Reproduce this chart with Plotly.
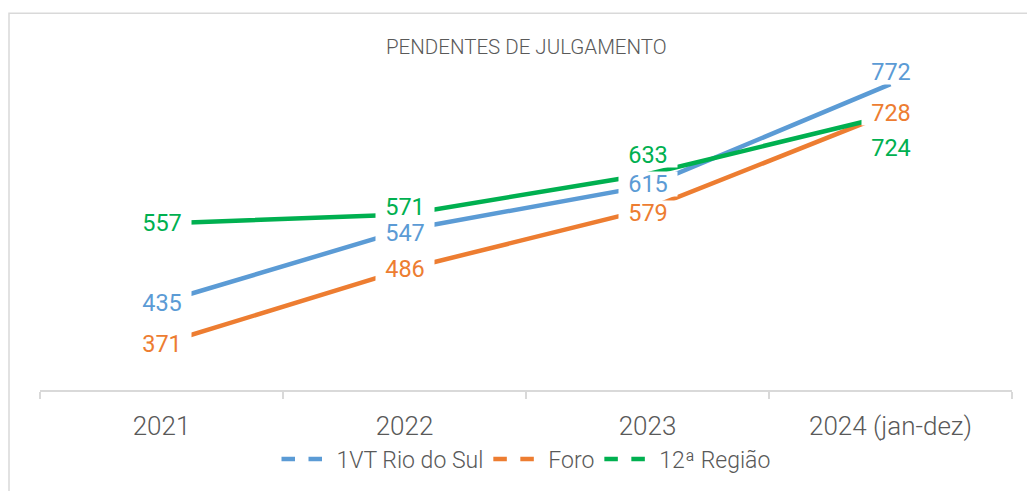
import plotly.graph_objects as go

categories = ["2021", "2022", "2023", "2024 (jan-dez)"]
vt_rio_do_sul = [435, 547, 615, 772]
foro = [371, 486, 579, 728]
regiao_12 = [557, 571, 633, 724]

series_names = ["1VT Rio do Sul", "Foro", "12ª Região"]
series_values = [vt_rio_do_sul, foro, regiao_12]
series_colors = ["#5B9BD5", "#ED7D31", "#00B050"]
# vertical nudges of data labels (pixels), one list per series
label_shifts = [[0, -3, 2, 12], [0, 0, -4, 0], [0, 7, 19, -33]]

TEXT = "#595959"
GRID = "#D9D9D9"
FONT = "Roboto"

fig = go.Figure()
for name, vals, col in zip(series_names, series_values, series_colors):
    fig.add_trace(go.Scatter(x=categories, y=vals, mode="lines", name=name,
                             line=dict(color=col, width=4.5), showlegend=False,
                             hoverinfo="skip"))
    fig.add_trace(go.Scatter(x=[None], y=[None], mode="lines", name=name,
                             line=dict(color=col, width=4.5, dash="dash"),
                             showlegend=True))

annotations = []
for vals, col, shifts in zip(series_values, series_colors, label_shifts):
    for i, (v, s) in enumerate(zip(vals, shifts)):
        annotations.append(dict(x=i, y=v, xref="x", yref="y", text=str(v),
                                showarrow=False, yshift=s, bgcolor="white",
                                borderpad=0, width=58, height=24,
                                font=dict(family=FONT, size=23.5, color=col)))

# page is offset by the 8px body margin; plot area spans page x 40..1012, y 66..391
annotations.append(dict(x=0.5, y=(391 - 47) / 325, xref="paper", yref="paper",
                        text="PENDENTES DE JULGAMENTO", showarrow=False,
                        xanchor="center", yanchor="middle",
                        font=dict(family=FONT, size=20.5, color=TEXT, weight=300)))

fig.update_layout(
    width=1027, height=483,
    margin=dict(l=32, r=23, t=58, b=100),
    paper_bgcolor="white", plot_bgcolor="white",
    annotations=annotations,
    showlegend=True,
    legend=dict(orientation="h", x=0.5, xanchor="center", y=(391 - 459) / 325,
                yanchor="middle", font=dict(family=FONT, size=23, color=TEXT, weight=300),
                itemwidth=50, traceorder="normal"),
    shapes=[dict(type="rect", xref="paper", yref="paper",
                 x0=(9 - 40) / 972, x1=1.2, y0=-1.0, y1=(391 - 13) / 325,
                 line=dict(color=GRID, width=1.5), fillcolor="rgba(0,0,0,0)", layer="below")],
)
fig.update_xaxes(type="category", range=[-0.5, 3.5], showgrid=False, showline=True,
                 linecolor=GRID, linewidth=1.5, ticks="outside", tickson="boundaries",
                 ticklen=7, tickcolor=GRID, tickwidth=1.5, ticklabelstandoff=12,
                 tickfont=dict(family=FONT, size=26, color=TEXT, weight=300),
                 fixedrange=True)
fig.update_yaxes(range=[300, 800], visible=False, fixedrange=True)

fig.write_html("out.html")
